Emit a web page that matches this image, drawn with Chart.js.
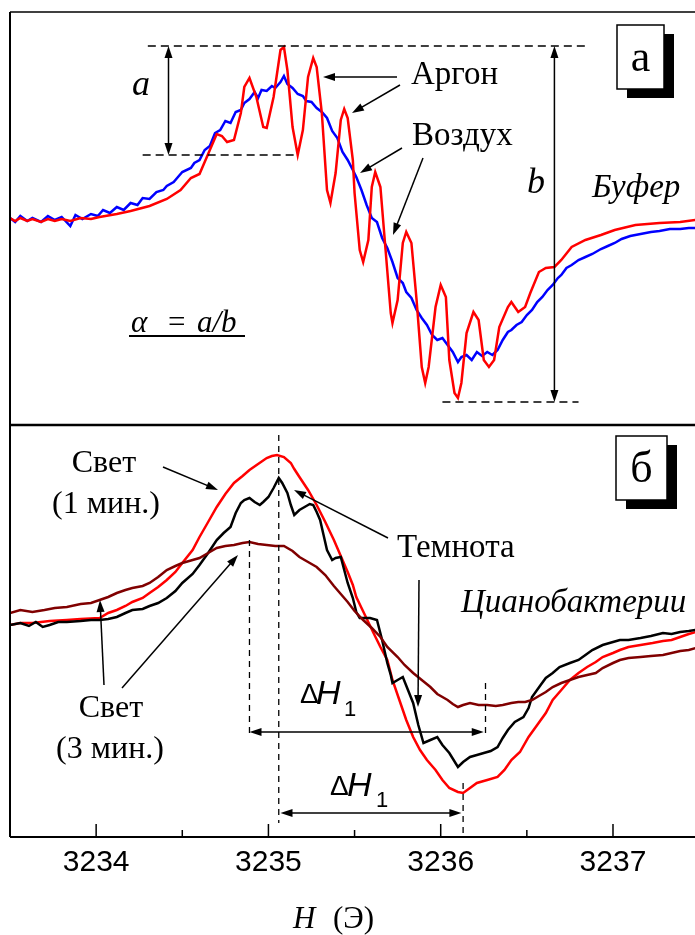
<!DOCTYPE html>
<html>
<head>
<meta charset="utf-8">
<script src="https://cdn.jsdelivr.net/npm/chart.js@4.4.1/dist/chart.umd.min.js"></script>
<style>
  html, body { margin: 0; padding: 0; background: #fff; overflow: hidden; }
  canvas { display: block; }
</style>
</head>
<body>
<canvas id="epr" width="695" height="935"></canvas>
<script>
// field H (Oe) and signal (arb. units)
// panel a: argon (red) and air (blue)
const argon = [
  [3233.50, 0], [3233.53, -3], [3233.56, 0], [3233.60, -3], [3233.63, -1], [3233.68, -4],
  [3233.72, -1], [3233.76, -3], [3233.80, -1], [3233.85, -3], [3233.91, 0], [3233.97, -1],
  [3234.02, 1], [3234.12, 4], [3234.20, 7], [3234.31, 12], [3234.41, 19], [3234.49, 28],
  [3234.55, 40], [3234.60, 44], [3234.63, 56], [3234.66, 68], [3234.70, 84], [3234.73, 82],
  [3234.76, 76], [3234.80, 78], [3234.84, 105], [3234.86, 131], [3234.89, 140], [3234.93, 121],
  [3234.97, 91], [3234.99, 90], [3235.03, 121], [3235.07, 168], [3235.09, 171], [3235.11, 148],
  [3235.14, 91], [3235.17, 63], [3235.20, 88], [3235.23, 141], [3235.26, 160], [3235.28, 151],
  [3235.31, 105], [3235.34, 28], [3235.36, 15], [3235.39, 45], [3235.42, 98], [3235.44, 109],
  [3235.46, 100], [3235.49, 58], [3235.50, 25], [3235.53, -32], [3235.55, -44], [3235.58, -22],
  [3235.60, 31], [3235.62, 46], [3235.65, 31], [3235.68, -32], [3235.71, -95], [3235.72, -105],
  [3235.75, -82], [3235.78, -25], [3235.80, -14], [3235.83, -25], [3235.86, -82], [3235.89, -149],
  [3235.91, -165], [3235.93, -149], [3235.97, -89], [3236.00, -67], [3236.03, -79], [3236.05, -142],
  [3236.08, -175], [3236.10, -180], [3236.12, -165], [3236.15, -115], [3236.19, -94], [3236.22, -102],
  [3236.25, -142], [3236.28, -149], [3236.31, -142], [3236.34, -109], [3236.39, -89], [3236.41, -84],
  [3236.45, -94], [3236.49, -89], [3236.52, -75], [3236.57, -54], [3236.61, -50], [3236.66, -49],
  [3236.70, -42], [3236.76, -29], [3236.84, -22], [3236.93, -17], [3237.01, -12], [3237.13, -7],
  [3237.27, -5], [3237.39, -4], [3237.48, -2],
];
const air = [
  [3233.50, 0], [3233.53, -4], [3233.56, 2], [3233.60, -3], [3233.63, 0], [3233.68, -4],
  [3233.72, 2], [3233.76, -2], [3233.80, 1], [3233.85, -8], [3233.88, 3], [3233.92, -1],
  [3233.97, 4], [3234.01, 2], [3234.04, 8], [3234.08, 5], [3234.12, 11], [3234.16, 8],
  [3234.20, 15], [3234.24, 13], [3234.27, 20], [3234.31, 19], [3234.35, 26], [3234.39, 28],
  [3234.41, 32], [3234.45, 36], [3234.48, 42], [3234.50, 46], [3234.55, 50], [3234.57, 55],
  [3234.60, 58], [3234.63, 68], [3234.66, 72], [3234.69, 85], [3234.72, 88], [3234.75, 97],
  [3234.78, 95], [3234.81, 106], [3234.84, 108], [3234.86, 115], [3234.89, 119], [3234.92, 126],
  [3234.94, 120], [3234.96, 128], [3234.99, 127], [3235.02, 132], [3235.04, 130], [3235.07, 136],
  [3235.09, 142], [3235.11, 134], [3235.14, 130], [3235.17, 124], [3235.20, 122], [3235.22, 117],
  [3235.25, 116], [3235.28, 110], [3235.31, 106], [3235.34, 100], [3235.37, 87], [3235.40, 80],
  [3235.43, 66], [3235.46, 58], [3235.49, 48], [3235.51, 41], [3235.54, 28], [3235.57, 13],
  [3235.60, 0], [3235.63, -4], [3235.66, -20], [3235.69, -30], [3235.72, -44], [3235.75, -60],
  [3235.78, -65], [3235.80, -74], [3235.83, -80], [3235.86, -92], [3235.89, -100], [3235.92, -107],
  [3235.95, -117], [3235.98, -122], [3236.01, -120], [3236.04, -127], [3236.07, -134], [3236.10, -144],
  [3236.12, -139], [3236.15, -137], [3236.18, -142], [3236.21, -134], [3236.24, -138], [3236.27, -134],
  [3236.30, -137], [3236.33, -132], [3236.36, -122], [3236.39, -114], [3236.41, -112], [3236.44, -107],
  [3236.47, -104], [3236.50, -97], [3236.53, -92], [3236.56, -84], [3236.59, -79], [3236.62, -72],
  [3236.65, -67], [3236.68, -60], [3236.70, -57], [3236.73, -50], [3236.76, -47], [3236.80, -42],
  [3236.84, -39], [3236.88, -36], [3236.93, -31], [3236.97, -28], [3237.01, -25], [3237.05, -21],
  [3237.10, -18], [3237.16, -16], [3237.22, -14], [3237.27, -13], [3237.33, -11], [3237.39, -11],
  [3237.44, -10], [3237.48, -10],
];

// panel б: light 1 min (red), dark (black), light 3 min (dark red)
const light1 = [
  [3233.50, 0], [3233.56, 2], [3233.63, 2], [3233.73, 4], [3233.83, 5], [3233.91, 6],
  [3234.02, 7], [3234.07, 12], [3234.12, 15], [3234.17, 19], [3234.21, 23], [3234.27, 27],
  [3234.31, 32], [3234.36, 38], [3234.41, 45], [3234.46, 53], [3234.50, 62], [3234.56, 75],
  [3234.60, 88], [3234.65, 103], [3234.70, 118], [3234.75, 131], [3234.80, 142], [3234.85, 149],
  [3234.89, 155], [3234.94, 161], [3234.99, 167], [3235.02, 169], [3235.05, 170], [3235.09, 168],
  [3235.13, 162], [3235.15, 156], [3235.18, 148], [3235.23, 135], [3235.28, 120], [3235.33, 103],
  [3235.38, 85], [3235.42, 69], [3235.46, 53], [3235.49, 40], [3235.51, 28], [3235.56, 10],
  [3235.61, -8], [3235.65, -22], [3235.69, -35], [3235.72, -55], [3235.76, -75], [3235.80, -95],
  [3235.84, -112], [3235.88, -125], [3235.92, -135], [3235.97, -145], [3236.01, -155], [3236.05, -163],
  [3236.10, -167], [3236.13, -168], [3236.17, -163], [3236.21, -158], [3236.27, -155], [3236.33, -152],
  [3236.37, -145], [3236.41, -135], [3236.46, -127], [3236.51, -112], [3236.56, -100], [3236.61, -88],
  [3236.65, -75], [3236.70, -65], [3236.75, -55], [3236.80, -48], [3236.85, -42], [3236.90, -37],
  [3236.94, -32], [3237.00, -28], [3237.04, -25], [3237.09, -22], [3237.16, -20], [3237.23, -18],
  [3237.29, -16], [3237.34, -15], [3237.39, -12], [3237.44, -9], [3237.48, -7],
];
const dark = [
  [3233.50, 0], [3233.56, 2], [3233.61, -1], [3233.65, 3], [3233.69, -2], [3233.73, 0],
  [3233.78, 3], [3233.83, 3], [3233.91, 4], [3233.97, 5], [3234.02, 5], [3234.07, 6],
  [3234.12, 8], [3234.17, 12], [3234.21, 15], [3234.27, 16], [3234.31, 19], [3234.36, 22],
  [3234.41, 27], [3234.46, 34], [3234.50, 42], [3234.56, 51], [3234.60, 60], [3234.65, 72],
  [3234.70, 85], [3234.74, 92], [3234.78, 98], [3234.81, 112], [3234.84, 122], [3234.86, 125],
  [3234.89, 127], [3234.92, 123], [3234.95, 120], [3234.97, 123], [3235.00, 128], [3235.03, 137],
  [3235.06, 147], [3235.08, 142], [3235.11, 132], [3235.13, 120], [3235.15, 110], [3235.18, 115],
  [3235.21, 118], [3235.24, 121], [3235.26, 120], [3235.28, 113], [3235.30, 105], [3235.32, 90],
  [3235.34, 75], [3235.37, 65], [3235.39, 67], [3235.42, 68], [3235.44, 55], [3235.46, 42],
  [3235.49, 27], [3235.51, 13], [3235.53, 7], [3235.56, 7], [3235.59, 7], [3235.63, 5],
  [3235.66, -15], [3235.69, -38], [3235.71, -50], [3235.72, -58], [3235.75, -55], [3235.78, -52],
  [3235.81, -65], [3235.84, -78], [3235.87, -100], [3235.90, -118], [3235.94, -115], [3235.98, -112],
  [3236.01, -120], [3236.05, -128], [3236.10, -142], [3236.13, -137], [3236.17, -132], [3236.21, -130],
  [3236.25, -128], [3236.29, -126], [3236.33, -122], [3236.36, -113], [3236.39, -105], [3236.43, -97],
  [3236.48, -92], [3236.51, -83], [3236.53, -72], [3236.58, -60], [3236.61, -53], [3236.65, -48],
  [3236.69, -42], [3236.75, -38], [3236.80, -35], [3236.84, -30], [3236.88, -25], [3236.94, -20],
  [3237.00, -17], [3237.04, -15], [3237.09, -15], [3237.16, -13], [3237.22, -11], [3237.29, -8],
  [3237.34, -9], [3237.39, -7], [3237.44, -6], [3237.48, -5],
];
const light3 = [
  [3233.50, 12], [3233.56, 15], [3233.63, 13], [3233.70, 15], [3233.76, 17], [3233.83, 18],
  [3233.91, 21], [3233.97, 22], [3234.02, 25], [3234.07, 28], [3234.12, 32], [3234.17, 35],
  [3234.21, 37], [3234.27, 39], [3234.31, 42], [3234.36, 48], [3234.41, 55], [3234.46, 59],
  [3234.50, 62], [3234.56, 65], [3234.60, 67], [3234.65, 72], [3234.70, 77], [3234.75, 79],
  [3234.80, 80], [3234.85, 82], [3234.89, 83], [3234.94, 81], [3234.99, 80], [3235.04, 79],
  [3235.09, 79], [3235.14, 74], [3235.18, 68], [3235.23, 63], [3235.28, 58], [3235.33, 50],
  [3235.38, 39], [3235.42, 31], [3235.46, 23], [3235.50, 14], [3235.55, 5], [3235.60, -3],
  [3235.65, -12], [3235.69, -22], [3235.75, -32], [3235.79, -40], [3235.84, -48], [3235.89, -55],
  [3235.94, -62], [3235.98, -69], [3236.04, -75], [3236.07, -79], [3236.10, -82], [3236.13, -80],
  [3236.17, -78], [3236.22, -80], [3236.27, -80], [3236.32, -81], [3236.36, -80], [3236.41, -78],
  [3236.45, -77], [3236.49, -77], [3236.53, -75], [3236.57, -71], [3236.61, -67], [3236.65, -62],
  [3236.70, -58], [3236.75, -55], [3236.80, -52], [3236.85, -50], [3236.90, -48], [3236.94, -43],
  [3237.00, -38], [3237.04, -35], [3237.09, -33], [3237.16, -32], [3237.22, -31], [3237.29, -30],
  [3237.34, -28], [3237.39, -26], [3237.44, -25], [3237.48, -23],
];

const xTicks = [3234, 3235, 3236, 3237];
const xMinorTicks = [3234.5, 3235.5, 3236.5];

const serif = '"Liberation Serif", "Times New Roman", serif';
const sans = '"Liberation Sans", Arial, sans-serif';

function line(ctx, x1, y1, x2, y2) {
  ctx.beginPath();
  ctx.moveTo(x1, y1);
  ctx.lineTo(x2, y2);
  ctx.stroke();
}

function head(ctx, x1, y1, x2, y2) {
  const a = Math.atan2(y2 - y1, x2 - x1);
  const L = 12, W = 4;
  ctx.beginPath();
  ctx.moveTo(x2, y2);
  ctx.lineTo(x2 - L * Math.cos(a) + W * Math.sin(a), y2 - L * Math.sin(a) - W * Math.cos(a));
  ctx.lineTo(x2 - L * Math.cos(a) - W * Math.sin(a), y2 - L * Math.sin(a) + W * Math.cos(a));
  ctx.closePath();
  ctx.fill();
}

function arrow(ctx, x1, y1, x2, y2, both) {
  const a = Math.atan2(y2 - y1, x2 - x1);
  const sx = both ? x1 + 8 * Math.cos(a) : x1;
  const sy = both ? y1 + 8 * Math.sin(a) : y1;
  line(ctx, sx, sy, x2 - 8 * Math.cos(a), y2 - 8 * Math.sin(a));
  head(ctx, x1, y1, x2, y2);
  if (both) head(ctx, x2, y2, x1, y1);
}

function text(ctx, s, x, y, font, align) {
  ctx.font = font;
  ctx.textAlign = align || "left";
  ctx.textBaseline = "alphabetic";
  ctx.fillText(s, x, y);
}

function box(ctx, x, y, w, h, label) {
  ctx.fillStyle = "#000";
  ctx.fillRect(x + 10, y + 9, w, h);
  ctx.fillStyle = "#fff";
  ctx.fillRect(x, y, w, h);
  ctx.lineWidth = 1.5;
  ctx.strokeRect(x, y, w, h);
  ctx.fillStyle = "#000";
  text(ctx, label, x + w / 2, y + h / 2 + 14, "44px " + serif, "center");
}

const decor = {
  id: "decor",
  afterDraw(chart) {
    const { ctx, chartArea: area, scales } = chart;
    const X = (v) => scales.x.getPixelForValue(v);
    const YT = (v) => scales.yTop.getPixelForValue(v);
    const YB = (v) => scales.yBot.getPixelForValue(v);
    const mid = YT(-207);

    ctx.save();
    ctx.strokeStyle = "#000";
    ctx.fillStyle = "#000";

    // frame
    ctx.lineWidth = 1.5;
    line(ctx, area.left, area.top, area.right, area.top);
    ctx.lineWidth = 2;
    line(ctx, area.left, area.top, area.left, area.bottom);
    line(ctx, area.left, area.bottom, area.right, area.bottom);
    ctx.lineWidth = 2.5;
    line(ctx, area.left, mid, area.right, mid);

    // inward ticks
    ctx.lineWidth = 1.5;
    xTicks.forEach((v) => line(ctx, X(v), area.bottom, X(v), area.bottom - 13));
    xMinorTicks.forEach((v) => line(ctx, X(v), area.bottom, X(v), area.bottom - 7));

    // dashed guides
    ctx.lineWidth = 1.3;
    ctx.setLineDash([8, 5]);
    line(ctx, X(3234.30), YT(172), X(3236.86), YT(172));
    line(ctx, X(3234.27), YT(63), X(3235.17), YT(63));
    line(ctx, X(3236.01), YT(-184), X(3236.80), YT(-184));
    ctx.setLineDash([6, 5]);
    line(ctx, X(3235.06), YB(190), X(3235.06), YB(-198));
    line(ctx, X(3234.89), YB(85), X(3234.89), YB(-113));
    line(ctx, X(3236.26), YB(-58), X(3236.26), YB(-110));
    line(ctx, X(3236.13), YB(-158), X(3236.13), YB(-208));
    ctx.setLineDash([]);

    // measuring arrows
    ctx.lineWidth = 1.5;
    arrow(ctx, X(3234.42), YT(172), X(3234.42), YT(63), true);
    arrow(ctx, X(3236.66), YT(172), X(3236.66), YT(-184), true);
    arrow(ctx, X(3234.89), YB(-107), X(3236.25), YB(-107), true);
    arrow(ctx, X(3235.07), YB(-188), X(3236.12), YB(-188), true);

    // pointer arrows
    arrow(ctx, 397, 77, 323, 77);
    arrow(ctx, 400, 85, 352, 113);
    arrow(ctx, 402, 148, 360, 173);
    arrow(ctx, 423, 158, 393, 235);
    arrow(ctx, 163, 467, 218, 490);
    arrow(ctx, 388, 538, 294, 490);
    arrow(ctx, 419, 580, 418, 707);
    arrow(ctx, 104, 685, 100, 600);
    arrow(ctx, 122, 688, 238, 555);

    // labels, panel a
    text(ctx, "a", 132, 95, "italic 36px " + serif);
    text(ctx, "b", 527, 193, "italic 36px " + serif);
    text(ctx, "Аргон", 411, 84, "33px " + serif);
    text(ctx, "Воздух", 412, 145, "33px " + serif);
    text(ctx, "Буфер", 592, 197, "italic 33px " + serif);
    text(ctx, "α", 131, 332, "italic 31px " + serif);
    text(ctx, "=", 168, 332, "31px " + serif);
    text(ctx, "a/b", 197, 332, "italic 31px " + serif);
    ctx.lineWidth = 1.8;
    line(ctx, 129, 336, 245, 336);
    box(ctx, 617, 25, 47, 64, "а");

    // labels, panel б
    text(ctx, "Свет", 104, 472, "32px " + serif, "center");
    text(ctx, "(1 мин.)", 106, 513, "32px " + serif, "center");
    text(ctx, "Темнота", 397, 557, "33px " + serif);
    text(ctx, "Цианобактерии", 461, 612, "italic 33px " + serif);
    text(ctx, "Свет", 111, 717, "32px " + serif, "center");
    text(ctx, "(3 мин.)", 110, 758, "32px " + serif, "center");
    text(ctx, "Δ", 300, 703, "28px " + sans);
    text(ctx, "H", 316, 704, "italic 34px " + sans);
    text(ctx, "1", 344, 716, "22px " + sans);
    text(ctx, "Δ", 330, 795, "28px " + sans);
    text(ctx, "H", 347, 796, "italic 34px " + sans);
    text(ctx, "1", 376, 807, "22px " + sans);
    box(ctx, 616, 436, 51, 64, "б");

    // axis title
    text(ctx, "H", 293, 928, "italic 31px " + serif);
    text(ctx, "(Э)", 333, 928, "31px " + serif);

    ctx.restore();
  },
};

const series = (pts) => pts.map(([x, y]) => ({ x, y }));

new Chart(document.getElementById("epr"), {
  type: "line",
  data: {
    datasets: [
      { data: series(argon), borderColor: "#ff0000", yAxisID: "yTop" },
      { data: series(air), borderColor: "#0000ff", yAxisID: "yTop" },
      { data: series(light3), borderColor: "#800000", yAxisID: "yBot" },
      { data: series(dark), borderColor: "#000000", yAxisID: "yBot" },
      { data: series(light1), borderColor: "#ff0000", yAxisID: "yBot" },
    ],
  },
  options: {
    responsive: false,
    animation: false,
    events: [],
    layout: { padding: { left: 10, top: 12, right: 0, bottom: 0 } },
    elements: {
      line: { borderWidth: 2.5, tension: 0, fill: false },
      point: { radius: 0 },
    },
    scales: {
      x: {
        type: "linear",
        min: 3233.5,
        max: 3237.476,
        afterBuildTicks: (s) => {
          s.ticks = xTicks.map((v) => ({ value: v }));
        },
        afterFit: (s) => {
          s.height = 98;
        },
        grid: { display: false, drawTicks: false },
        border: { display: false },
        ticks: {
          padding: 8,
          color: "#000",
          maxRotation: 0,
          font: { family: sans, size: 30 },
          callback: (v) => String(v),
        },
      },
      yTop: { type: "linear", display: false, min: -619, max: 206 },
      yBot: { type: "linear", display: false, min: -212, max: 613 },
    },
    plugins: { legend: { display: false }, tooltip: { enabled: false } },
  },
  plugins: [decor],
});
</script>
</body>
</html>
